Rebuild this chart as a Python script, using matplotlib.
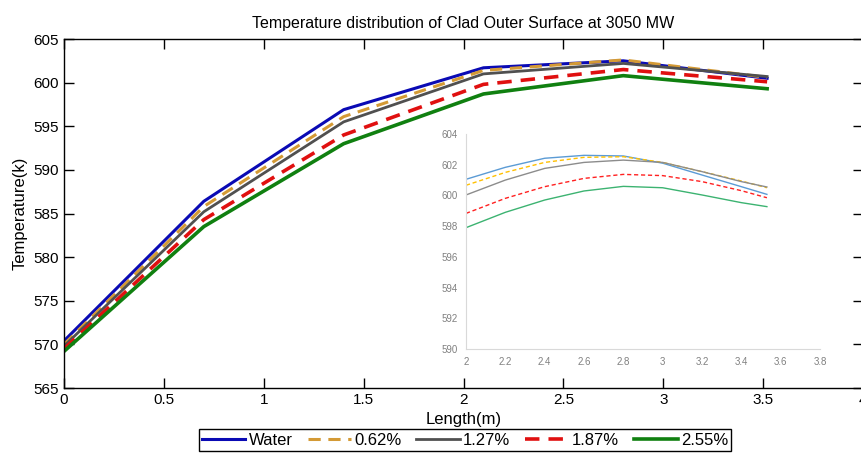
import matplotlib.pyplot as plt
import numpy as np

plt.rcParams['font.family'] = ['Liberation Sans Narrow', 'Liberation Sans', 'DejaVu Sans']

# main chart data (Length in m, temperature in K)
length = [0.0, 0.7, 1.4, 2.1, 2.8, 3.52]
t_water = [570.4, 586.4, 596.9, 601.7, 602.5, 600.5]
t_062 = [570.0, 585.8, 596.1, 601.4, 602.6, 600.6]
t_127 = [569.8, 585.2, 595.5, 601.0, 602.2, 600.7]
t_187 = [569.5, 584.3, 594.0, 599.8, 601.5, 600.1]
t_255 = [569.2, 583.5, 593.0, 598.7, 600.8, 599.3]

# inset (zoomed, smoothed) data
ins_x = [2.0, 2.2, 2.4, 2.6, 2.8, 3.0, 3.2, 3.4, 3.53]
ins_water = [601.05, 601.83, 602.42, 602.61, 602.57, 602.10, 601.33, 600.57, 600.07]
ins_062 = [600.66, 601.50, 602.15, 602.48, 602.52, 602.15, 601.55, 600.94, 600.50]
ins_127 = [600.03, 601.00, 601.76, 602.15, 602.30, 602.15, 601.55, 600.90, 600.55]
ins_187 = [598.83, 599.81, 600.57, 601.11, 601.37, 601.29, 600.90, 600.31, 599.85]
ins_255 = [597.90, 598.90, 599.70, 600.29, 600.59, 600.50, 600.03, 599.53, 599.27]

labels = ['Water', '0.62%', '1.27%', '1.87%', '2.55%']

fig = plt.figure(figsize=(8.61, 4.65), dpi=100)
ax = fig.add_axes([64 / 861, 1 - 388 / 465, 799 / 861, 349 / 465])

main_styles = [
    dict(color='#0a0ab4', ls='-', lw=2.2),
    dict(color='#d49a35', ls=(0, (4, 2.5)), lw=2.2),
    dict(color='#505050', ls='-', lw=2.0),
    dict(color='#e01010', ls=(0, (4, 2.5)), lw=2.6),
    dict(color='#108010', ls='-', lw=2.6),
]
series = [t_water, t_062, t_127, t_187, t_255]
for ys, lab, st in zip(series, labels, main_styles):
    ax.plot(length, ys, label=lab, **st)

ax.set_xlim(0, 4)
ax.set_ylim(565, 605)
ax.set_xticks(np.arange(0, 4.01, 0.5))
ax.set_xticklabels(['0', '0.5', '1', '1.5', '2', '2.5', '3', '3.5', '4'])
ax.set_yticks(np.arange(565, 606, 5))
ax.tick_params(direction='in', top=True, right=True, length=7, width=1, labelsize=11)
for sp in ax.spines.values():
    sp.set_linewidth(1.0)
ax.set_xlabel('Length(m)', fontsize=12, labelpad=4)
ax.set_ylabel('Temperature(k)', fontsize=12, labelpad=4)
ax.set_title('Temperature distribution of Clad Outer Surface at 3050 MW', fontsize=11.5, pad=8)

# inset
ins = fig.add_axes([466 / 861, 1 - 349 / 465, 354 / 861, 215 / 465])
ins.set_facecolor('white')
ins_styles = [
    dict(color='#5b9bd5', ls='-', lw=1.0),
    dict(color='#ffc000', ls=(0, (3, 2)), lw=1.0),
    dict(color='#8c8c8c', ls='-', lw=1.0),
    dict(color='#ff2020', ls=(0, (3, 2)), lw=1.0),
    dict(color='#3cb371', ls='-', lw=1.0),
]
for ys, st in zip([ins_water, ins_062, ins_127, ins_187, ins_255], ins_styles):
    ins.plot(ins_x, ys, **st)
ins.set_xlim(2, 3.8)
ins.set_ylim(590, 604)
ins.set_xticks(np.arange(2, 3.81, 0.2))
ins.set_xticklabels(['2', '2.2', '2.4', '2.6', '2.8', '3', '3.2', '3.4', '3.6', '3.8'])
ins.set_yticks(np.arange(590, 605, 2))
ins.tick_params(length=0, labelsize=7, labelcolor='#808080', pad=6)
for s in ['top', 'right']:
    ins.spines[s].set_visible(False)
for s in ['left', 'bottom']:
    ins.spines[s].set_color('#d9d9d9')

fig.legend(loc='center', bbox_to_anchor=(465 / 861, 1 - 440 / 465), ncol=5,
           fontsize=12, frameon=True, fancybox=False, edgecolor='black',
           handlelength=2.6, handletextpad=0.2, columnspacing=0.9,
           borderpad=0.2, framealpha=1)

fig.savefig('out.png', dpi=100)
